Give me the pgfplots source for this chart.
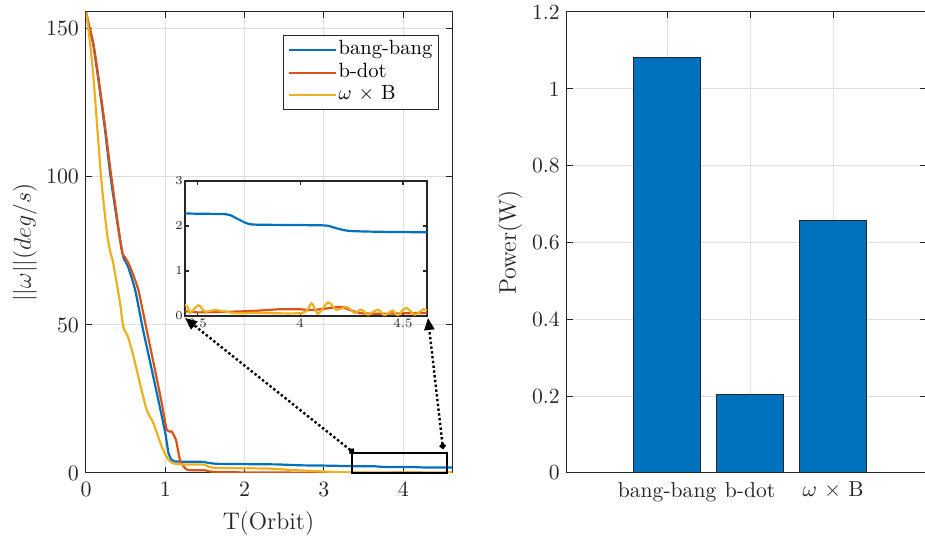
\documentclass[border=0pt]{standalone}
\usepackage{pgfplots}
\pgfplotsset{compat=1.18}
\usetikzlibrary{arrows.meta}
\definecolor{mblue}{rgb}{0,0.447,0.741}
\definecolor{mred}{rgb}{0.85,0.325,0.098}
\definecolor{myellow}{rgb}{0.929,0.694,0.125}
\definecolor{axgray}{rgb}{0.15,0.15,0.15}
\definecolor{gridgray}{rgb}{0.875,0.875,0.875}

\pgfplotstableread{
x y
0 155.7
0.04 150.5
0.09 145
0.15 134
0.235 117
0.31 100
0.41 82
0.47 73
0.53 69.7
0.62 61.8
0.72 48.3
0.83 34.8
0.93 22.4
1.0 13.5
1.04 6.7
1.08 4.4
1.12 3.9
1.3 3.8
1.45 3.8
1.55 3.4
1.65 3.1
2.0 3.0
2.4 2.9
2.7 2.6
3.0 2.5
3.3 2.35
3.44 2.28
3.64 2.26
3.69 2.17
3.74 2.06
3.785 2.03
4.01 2.02
4.127 2.01
4.176 1.95
4.24 1.89
4.4 1.87
4.617 1.86
}\bangdata

\pgfplotstableread{
x y
0 155.7
0.04 151
0.093 145
0.155 134
0.24 117
0.32 100
0.45 75.3
0.49 73
0.555 69.7
0.66 61.8
0.765 48.3
0.87 34.8
0.955 23.6
1.02 14.5
1.08 14
1.135 11.1
1.185 4.4
1.25 1.6
1.3 1.0
1.5 0.9
1.6 0.4
2.0 0.2
3.0 0.1
3.44 0.1
3.5 0.08
3.6 0.09
3.7 0.1
3.8 0.12
3.9 0.15
4.0 0.15
4.05 0.13
4.1 0.15
4.15 0.18
4.2 0.2
4.25 0.12
4.3 0.06
4.4 0.05
4.5 0.06
4.617 0.07
}\bdotdata

\pgfplotstableread{
x y
0 155.7
0.03 150
0.09 135
0.19 100
0.26 82
0.3 75.3
0.344 70.8
0.43 57.3
0.47 49.4
0.53 46
0.6 39.3
0.68 30.3
0.765 21.3
0.85 16.8
0.955 8.9
1.04 4.4
1.1 3.3
1.2 2.9
1.5 2.8
1.6 1.8
2.3 1.5
2.6 1.0
3.0 0.5
3.3 0.2
3.44 0.24
3.464 0.07
3.505 0.24
3.537 0.1
3.59 0.13
3.69 0.06
3.78 0.07
4.01 0.07
4.055 0.28
4.087 0.05
4.136 0.3
4.176 0.14
4.225 0.2
4.265 0.07
4.298 0.14
4.33 0.03
4.377 0.14
4.41 0.02
4.45 0.12
4.475 0.02
4.516 0.18
4.557 0.03
4.6 0.15
4.617 0.12
}\wxbdata

\pgfplotstableread{
x y
1 1.081
2 0.2045
3 0.657
}\powerdata

\begin{document}
\begin{tikzpicture}
\useasboundingbox (0pt,0pt) rectangle (462.5pt,270pt);

% ---------------- left axis ----------------
\begin{axis}[
  at={(43pt,33.5pt)}, anchor=south west,
  width=183pt, height=230.5pt, scale only axis,
  xmin=0, xmax=4.615, ymin=0, ymax=155.7,
  xtick={0,1,2,3,4}, ytick={0,50,100,150},
  tick align=inside, tick pos=both,
  major tick length=3pt,
  grid=major,
  major grid style={color=gridgray, line width=0.5pt},
  axis line style={color=axgray, line width=0.5pt},
  every tick/.style={color=axgray, line width=0.5pt},
  tick label style={font=\fontsize{10.8}{13}\selectfont, color=axgray},
  xticklabel style={yshift=-1pt},
  xlabel={T(Orbit)},
  ylabel={$||\omega||(deg/s)$},
  label style={font=\fontsize{12}{14}\selectfont, color=axgray},
  xlabel style={at={(axis description cs:0.4986,-0.11)}, anchor=center},
  ylabel style={at={(axis description cs:-0.167,0.5)}, anchor=center},
  clip mode=individual,
  legend cell align=left,
  legend style={at={(axis description cs:0.9645,0.95)}, anchor=north east,
    draw=axgray, line width=0.5pt, fill=white,
    font=\fontsize{10.3}{12}\selectfont, inner xsep=2pt, inner ysep=1.5pt,
    row sep=-0.5pt,
    nodes={inner sep=1pt, text height=0.72em, text depth=0.25em, text=black}},
  legend image code/.code={\draw[#1, line width=1pt] (0pt,0pt) -- (23.5pt,0pt);},
]
\addplot[mblue, line width=1.1pt, smooth, tension=0.35] table[x=x,y=y] {\bangdata};
\addlegendentry{bang-bang}
\addplot[mred, line width=1.1pt, smooth, tension=0.35] table[x=x,y=y] {\bdotdata};
\addlegendentry{b-dot}
\addplot[myellow, line width=1.1pt, smooth, tension=0.35] table[x=x,y=y] {\wxbdata};
\addlegendentry{$\omega$ $\times$ B}
\draw[black, line width=1pt] (axis cs:3.36,0) rectangle (axis cs:4.549,6.86);
\end{axis}

% ---------------- inset ----------------
\begin{axis}[
  at={(92.5pt,112pt)}, anchor=south west,
  width=121pt, height=67.5pt, scale only axis,
  xmin=3.44, xmax=4.617, ymin=0, ymax=3,
  xtick={3.5,4,4.5}, ytick={0,1,2,3},
  xticklabels={3.5,4,4.5},
  tick align=inside, tick pos=both,
  major tick length=2pt,
  axis line style={color=axgray, line width=1pt},
  every tick/.style={color=axgray, line width=0.6pt},
  tick label style={font=\fontsize{6.5}{7}\selectfont, color=axgray, inner sep=1pt},
]
\addplot[mblue, line width=1.1pt, smooth, tension=0.4] table[x=x,y=y] {\bangdata};
\addplot[mred, line width=1.1pt, smooth, tension=0.4] table[x=x,y=y] {\bdotdata};
\addplot[myellow, line width=1.1pt, smooth, tension=0.5] table[x=x,y=y] {\wxbdata};
\end{axis}

% ---------------- arrows ----------------
\draw[black, line width=1.2pt, dash pattern=on 1.2pt off 1.2pt,
  {Circle[length=3pt]}-{Triangle[length=6pt,width=5pt]}] (177pt,43.5pt) -- (92.5pt,111pt);
\draw[black, line width=1.2pt, dash pattern=on 1.2pt off 1.2pt,
  {Circle[length=3pt]}-{Triangle[length=6pt,width=5pt]}] (221.5pt,45.5pt) -- (214pt,111pt);

% ---------------- right axis ----------------
\begin{axis}[
  at={(283.35pt,33.5pt)}, anchor=south west,
  width=179.65pt, height=230.5pt, scale only axis,
  xmin=-0.21, xmax=4.12, ymin=0, ymax=1.2,
  xtick={1,2,3}, xticklabels={bang-bang, b-dot, $\omega$ $\times$ B},
  ytick={0,0.2,0.4,0.6,0.8,1,1.2},
  yticklabels={0,0.2,0.4,0.6,0.8,1,1.2},
  tick align=inside, tick pos=both,
  major tick length=3pt,
  grid=major,
  major grid style={color=gridgray, line width=0.5pt},
  axis line style={color=axgray, line width=0.5pt},
  every tick/.style={color=axgray, line width=0.5pt},
  tick label style={font=\fontsize{10.8}{13}\selectfont, color=axgray},
  xticklabel style={yshift=-1pt},
  ylabel={Power(W)},
  label style={font=\fontsize{12}{14}\selectfont, color=axgray},
  ylabel style={at={(axis description cs:-0.158,0.5)}, anchor=center},
]
\addplot[ybar, bar width=0.8, fill=mblue, draw=axgray, line width=0.5pt] table[x=x,y=y] {\powerdata};
\end{axis}
\end{tikzpicture}
\end{document}
